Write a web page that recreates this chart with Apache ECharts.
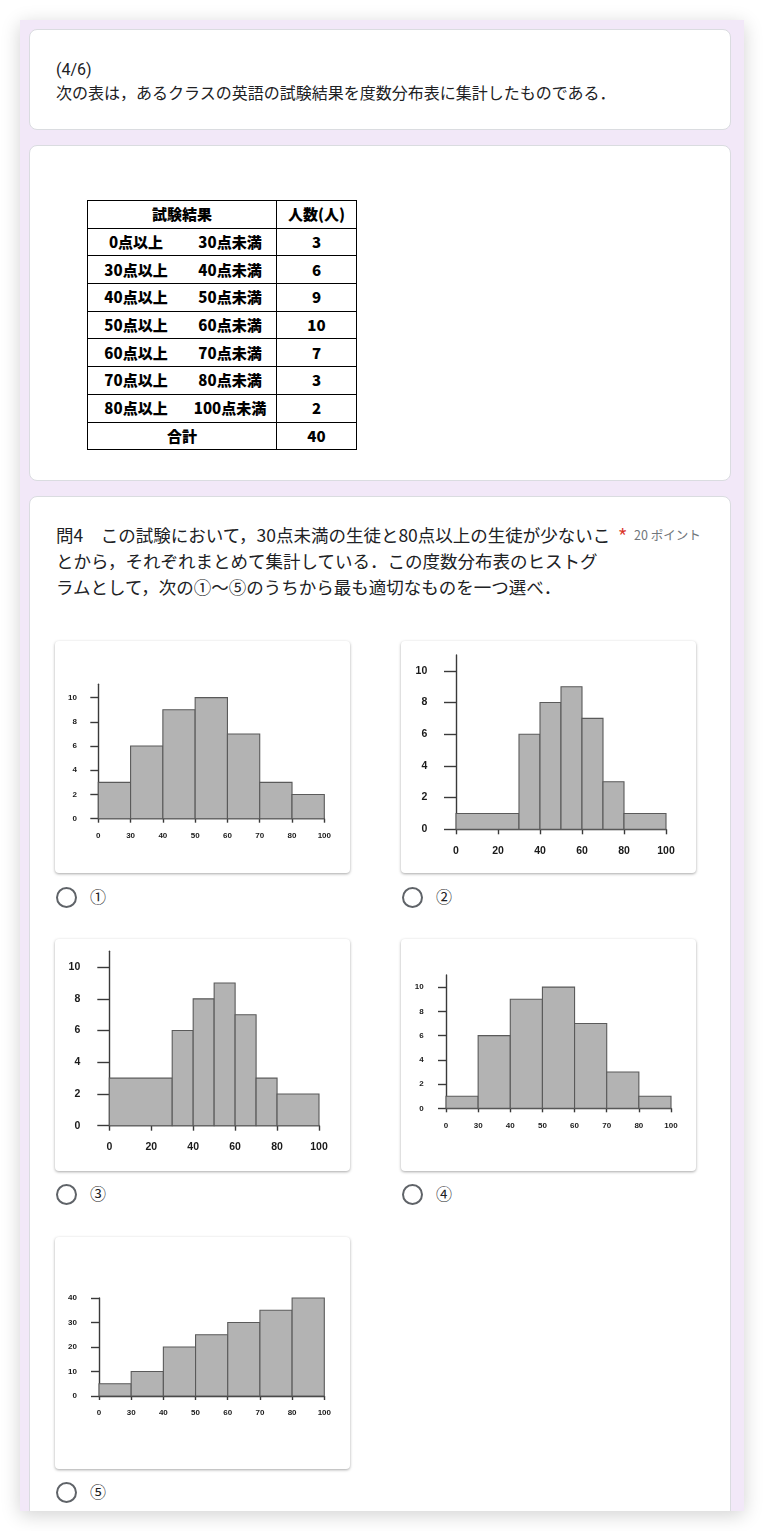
<!DOCTYPE html>
<html><head><meta charset="utf-8">
<script src="https://cdn.jsdelivr.net/npm/echarts@6/dist/echarts.min.js"></script>
<style>
html,body{margin:0;padding:0;background:#fff;width:764px;height:1531px;overflow:hidden;}
body{font-family:Roboto,"Noto Sans CJK JP",sans-serif;color:#202124;position:relative;}
#frame{position:absolute;left:20px;top:20px;width:724px;height:1491px;background:#f2e8f8;box-shadow:0 4px 18px rgba(0,0,0,0.18);overflow:hidden;}
.card{position:absolute;left:9px;width:700px;background:#fff;border:1px solid #dadce0;border-radius:8px;}
.abs{position:absolute;}
.opt{position:absolute;width:295px;height:232px;background:#fff;border-radius:4px;box-shadow:0 1px 3px rgba(0,0,0,0.35);}
.radio{position:absolute;width:17px;height:17px;border:2px solid #5f6368;border-radius:50%;}
.rlabel{position:absolute;font-size:16px;line-height:20px;color:#202124;font-family:"Noto Sans CJK JP",sans-serif;}
table.freq{position:absolute;left:87px;top:200px;border-collapse:collapse;table-layout:fixed;font-family:"Noto Sans CJK JP",sans-serif;font-weight:900;font-size:15px;color:#000;white-space:nowrap;}
table.freq td{border:1px solid #000;padding:0;height:26.7px;text-align:center;line-height:20px;}
.split{display:flex;width:188px;}
.split span{display:block;text-align:center;}
</style></head>
<body>
<div id="frame">
  <div class="card" style="top:9px;height:99px;"></div>
  <div class="card" style="top:125px;height:334px;"></div>
  <div class="card" style="top:476px;height:1100px;"></div>
</div>
<div class="abs" style="left:56px;top:59px;font-size:16px;line-height:22px;white-space:nowrap;">(4/6)<br><span style="font-family:'Noto Sans CJK JP',sans-serif;">次の表は，あるクラスの英語の試験結果を度数分布表に集計したものである．</span></div>
<div id="tbl"></div>
<div class="abs" style="left:56px;top:522px;font-size:17.5px;line-height:26px;font-family:'Noto Sans CJK JP',sans-serif;white-space:nowrap;">問4　この試験において，30点未満の生徒と80点以上の生徒が少ないこ<br>とから，それぞれまとめて集計している．この度数分布表のヒストグ<br>ラムとして，次の①～⑤のうちから最も適切なものを一つ選べ．</div>
<div class="abs" style="left:619px;top:523px;font-size:17px;line-height:22px;color:#d93025;">*</div>
<div class="abs" style="left:634px;top:526px;font-size:12.5px;line-height:18px;color:#70757a;font-family:'Noto Sans CJK JP',sans-serif;white-space:nowrap;">20 ポイント</div>

<div id="c1" class="opt" style="left:55px;top:641px;"></div>
<div id="c2" class="opt" style="left:401px;top:641px;"></div>
<div id="c3" class="opt" style="left:55px;top:939px;"></div>
<div id="c4" class="opt" style="left:401px;top:939px;"></div>
<div id="c5" class="opt" style="left:55px;top:1237px;"></div>
<div id="radios"></div>

<script>
// ---- data ----
const tableHeader = ['試験結果', '人数(人)'];
const rangeLow = ['0点以上', '30点以上', '40点以上', '50点以上', '60点以上', '70点以上', '80点以上'];
const rangeHigh = ['30点未満', '40点未満', '50点未満', '60点未満', '70点未満', '80点未満', '100点未満'];
const tableCounts = [3, 6, 9, 10, 7, 3, 2];
const totalLabel = '合計';
const totalCount = 40;

const binEdges = [0, 30, 40, 50, 60, 70, 80, 100];
const hist1 = [3, 6, 9, 10, 7, 3, 2];
const hist2 = [1, 6, 8, 9, 7, 3, 1];
const hist3 = [3, 6, 8, 9, 7, 3, 2];
const hist4 = [1, 6, 9, 10, 7, 3, 1];
const hist5 = [5, 10, 20, 25, 30, 35, 40];
const yTicksSmall = [0, 2, 4, 6, 8, 10];
const yTicksLarge = [0, 10, 20, 30, 40];
const xTicksLinear = [0, 20, 40, 60, 80, 100];
const optionLabels = ['①', '②', '③', '④', '⑤'];

// ---- table ----
(function () {
  let h = '<table class="freq"><colgroup><col style="width:188px"><col style="width:80px"></colgroup>';
  h += '<tr><td>' + tableHeader[0] + '</td><td>' + tableHeader[1] + '</td></tr>';
  for (let i = 0; i < rangeLow.length; i++) {
    h += '<tr><td><div class="split"><span style="width:96px">' + rangeLow[i] +
      '</span><span style="width:92px">' + rangeHigh[i] + '</span></div></td><td>' + tableCounts[i] + '</td></tr>';
  }
  h += '<tr><td>' + totalLabel + '</td><td>' + totalCount + '</td></tr></table>';
  document.getElementById('tbl').innerHTML = h;
})();

// ---- radios ----
(function () {
  const pos = [[66, 897], [412, 897], [66, 1194], [412, 1194], [66, 1492]];
  let h = '';
  pos.forEach((p, i) => {
    h += '<div class="radio" style="left:' + (p[0] - 10.5) + 'px;top:' + (p[1] - 10.5) + 'px"></div>';
    h += '<div class="rlabel" style="left:' + (p[0] + 24) + 'px;top:' + (p[1] - 11) + 'px">' + optionLabels[i] + '</div>';
  });
  document.getElementById('radios').innerHTML = h;
})();

// ---- histograms ----
function makeHist(id, values, cfg) {
  const el = document.getElementById(id);
  const chart = echarts.init(el, null, { renderer: 'canvas', width: 295, height: 232 });
  const data = values.map((v, i) => cfg.equal ? [i, i + 1, v] : [binEdges[i], binEdges[i + 1], v]);
  const xTicks = cfg.equal ? binEdges.map((e, i) => i) : xTicksLinear;
  const axisColor = '#3a3a3a';
  const labelStyle = { color: '#1a1a1a', fontWeight: 'bold', fontSize: cfg.fs, fontFamily: '"Liberation Sans", Arial, sans-serif' };
  chart.setOption({
    animation: false,
    grid: { left: cfg.left, top: cfg.top, width: cfg.width, height: cfg.height },
    xAxis: {
      type: 'value',
      min: 0,
      max: cfg.equal ? values.length : 100,
      interval: cfg.equal ? 1 : 20,
      offset: cfg.xOff,
      splitLine: { show: false },
      axisLine: { show: true, lineStyle: { color: axisColor, width: 1.4 } },
      axisTick: { show: true, length: cfg.xTick, customValues: xTicks, lineStyle: { color: axisColor, width: 1.4 } },
      axisLabel: Object.assign({
        margin: cfg.xMargin, customValues: xTicks,
        formatter: v => cfg.equal ? String(binEdges[v]) : String(v)
      }, labelStyle)
    },
    yAxis: {
      type: 'value',
      min: 0,
      max: cfg.yMax,
      interval: cfg.yStep,
      offset: cfg.yOff,
      splitLine: { show: false },
      axisLine: { show: true, lineStyle: { color: axisColor, width: 1.4 } },
      axisTick: { show: true, length: cfg.yTick, customValues: cfg.yTicks, lineStyle: { color: axisColor, width: 1.4 } },
      axisLabel: Object.assign({ margin: cfg.yMargin, customValues: cfg.yTicks }, labelStyle)
    },
    series: [{
      type: 'custom',
      data: data,
      encode: { x: [0, 1], y: 2 },
      clip: false,
      renderItem: function (params, api) {
        const p0 = api.coord([api.value(0), api.value(2)]);
        const p1 = api.coord([api.value(1), 0]);
        return {
          type: 'rect',
          shape: { x: p0[0], y: p0[1], width: p1[0] - p0[0], height: p1[1] - p0[1] },
          style: { fill: '#b3b3b3', stroke: '#5a5a5a', lineWidth: 1.1 }
        };
      }
    }]
  });
}

makeHist('c1', hist1, { equal: true, left: 43.3, top: 43.3, width: 226, height: 134.4, yMax: 11.1, yStep: 2, yTicks: yTicksSmall,
  yOff: 8.3, xOff: 5, yTick: 8, xTick: 4, yMargin: 13, xMargin: 8, fs: 8 });
makeHist('c2', hist2, { equal: false, left: 55, top: 14, width: 210, height: 174.3, yMax: 11, yStep: 2, yTicks: yTicksSmall,
  yOff: 11.7, xOff: 7.7, yTick: 12, xTick: 5, yMargin: 17, xMargin: 9, fs: 10.5 });
makeHist('c3', hist3, { equal: false, left: 54.3, top: 12.3, width: 209.7, height: 174.4, yMax: 11, yStep: 2, yTicks: yTicksSmall,
  yOff: 12, xOff: 7.3, yTick: 12, xTick: 5, yMargin: 17, xMargin: 9, fs: 10.5 });
makeHist('c4', hist4, { equal: true, left: 45, top: 36, width: 225, height: 133.3, yMax: 11, yStep: 2, yTicks: yTicksSmall,
  yOff: 9.3, xOff: 5, yTick: 8, xTick: 4, yMargin: 13, xMargin: 8, fs: 8 });
makeHist('c5', hist5, { equal: true, left: 44, top: 61, width: 225.3, height: 98, yMax: 40, yStep: 10, yTicks: yTicksLarge,
  yOff: 9, xOff: 5, yTick: 8, xTick: 4, yMargin: 13, xMargin: 8, fs: 8 });
</script>
</body></html>
